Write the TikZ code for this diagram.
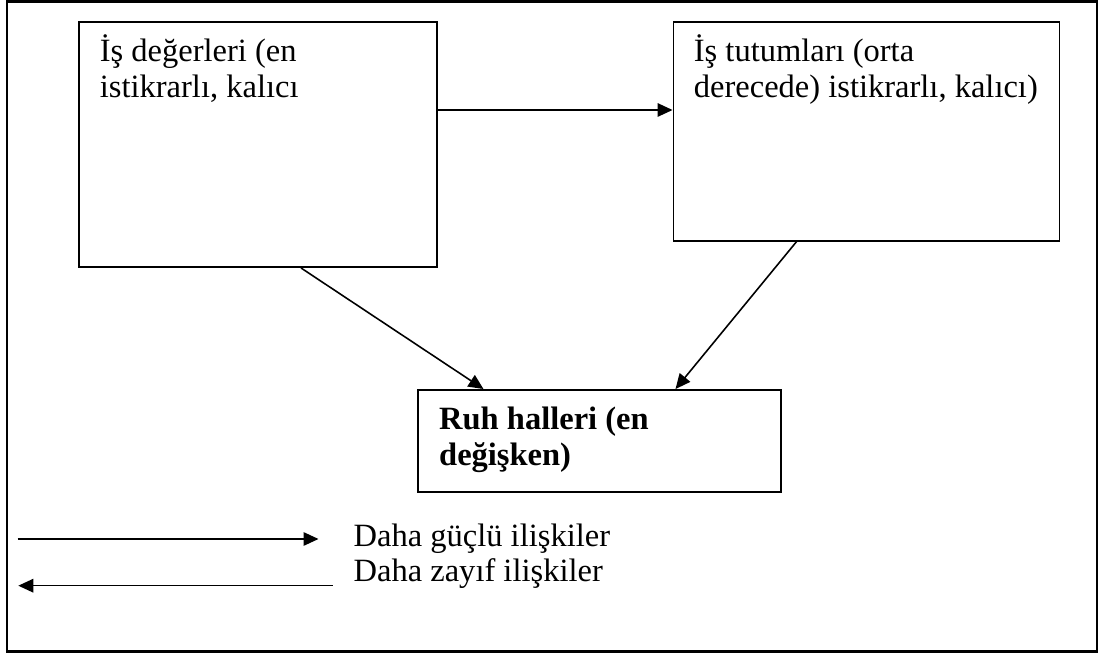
\documentclass[tikz,border=0pt]{standalone}
\usepackage{fontspec}
\setmainfont{Liberation Serif}
\usetikzlibrary{arrows.meta}

\begin{document}
\begin{tikzpicture}[
  box/.style={draw=black, line width=1.1pt, inner sep=0pt},
  boxtext/.style={anchor=base west, align=left, inner sep=0pt, font=\fontsize{18.5}{20.6}\selectfont},
  arr/.style={draw=black, line width=0.9pt, -{Triangle[length=0.3cm, width=0.27cm]}}
]
\useasboundingbox (0,0) rectangle (22.02,13.1);
\draw [line width=1.4pt] (0.14,0.07) rectangle (21.94,13.07);
\node[box, minimum width=7.16cm, minimum height=4.906cm](V) at (5.16,10.213) {};
\node[box, minimum width=7.72cm, minimum height=4.38cm](A) at (17.33,10.476) {};
\node[box, minimum width=7.254cm, minimum height=2.034cm](M) at (11.993,4.283) {};
% base west of a two-line node sits on the last line
\node[boxtext](VT) at ([shift={(0.43,-1.536)}]V.north west) {İş değerleri (en\\istikrarlı, kalıcı};
\node[boxtext](AT) at ([shift={(0.42,-1.536)}]A.north west) {İş tutumları (orta\\derecede) istikrarlı, kalıcı)};
\node[boxtext, font=\fontsize{18.5}{20.6}\selectfont\bfseries](MT) at ([shift={(0.43,-1.526)}]M.north west) {Ruh halleri (en\\değişken)};
\draw [arr] ([yshift=0.687cm]V.east) coordinate (v1) -- (v1 -| A.west);
\draw [arr] ([xshift=0.86cm]V.south) -- ([xshift=-2.323cm]M.north);
\draw [arr] ([xshift=-1.4cm]A.south) -- ([xshift=1.517cm]M.north);
% legend
\coordinate (s1) at (0.35,2.32);
\coordinate (s2) at (6.37,2.32);
\coordinate (w1) at (6.654,1.386);
\coordinate (w2) at (0.366,1.386);
\draw [arr] (s1) -- (s2);
\draw [arr] (w1) -- (w2);
\node[boxtext](S) at (7.066,2.18) {Daha güçlü ilişkiler};
\node[boxtext](W) at (7.066,1.466) {Daha zayıf ilişkiler};
\end{tikzpicture}
\end{document}
